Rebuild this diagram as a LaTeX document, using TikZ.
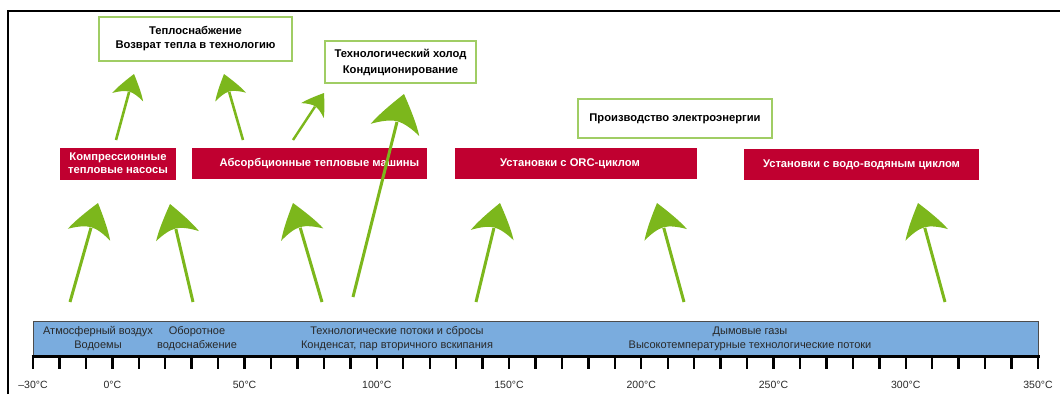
\documentclass[tikz,border=0pt]{standalone}
\usepackage{fontspec}
\setmainfont{Liberation Sans}
\usetikzlibrary{arrows.meta}

\definecolor{arrgreen}{RGB}{124,183,28}
\definecolor{boxgreen}{RGB}{160,205,100}
\definecolor{rred}{RGB}{192,0,48}
\definecolor{barblue}{RGB}{122,172,222}
\definecolor{txtgrey}{RGB}{40,40,40}

\pgfdeclarearrow{
  name=Swoop,
  parameters={\the\pgfarrowlength,\the\pgfarrowwidth},
  setup code={
    \pgfarrowssettipend{\pgfarrowlength}
    \pgfarrowssetlineend{.22\pgfarrowlength}
    \pgfarrowssetvisualbackend{.22\pgfarrowlength}
    \pgfarrowssetbackend{0pt}
    \pgfarrowshullpoint{\pgfarrowlength}{0pt}
    \pgfarrowsupperhullpoint{0pt}{.5\pgfarrowwidth}
    \pgfarrowssavethe\pgfarrowlength
    \pgfarrowssavethe\pgfarrowwidth
  },
  drawing code={
    \pgfpathmoveto{\pgfqpoint{\pgfarrowlength}{0pt}}
    \pgfpathcurveto{\pgfqpoint{.65\pgfarrowlength}{.2\pgfarrowwidth}}{\pgfqpoint{.3\pgfarrowlength}{.39\pgfarrowwidth}}{\pgfqpoint{0pt}{.5\pgfarrowwidth}}
    \pgfpathcurveto{\pgfqpoint{.14\pgfarrowlength}{.32\pgfarrowwidth}}{\pgfqpoint{.24\pgfarrowlength}{.14\pgfarrowwidth}}{\pgfqpoint{.24\pgfarrowlength}{0pt}}
    \pgfpathcurveto{\pgfqpoint{.24\pgfarrowlength}{-.14\pgfarrowwidth}}{\pgfqpoint{.14\pgfarrowlength}{-.32\pgfarrowwidth}}{\pgfqpoint{0pt}{-.5\pgfarrowwidth}}
    \pgfpathcurveto{\pgfqpoint{.3\pgfarrowlength}{-.39\pgfarrowwidth}}{\pgfqpoint{.65\pgfarrowlength}{-.2\pgfarrowwidth}}{\pgfqpoint{\pgfarrowlength}{0pt}}
    \pgfpathclose
    \pgfusepathqfill
  },
  defaults={length=33pt, width=44pt}
}

\tikzset{
  redbox/.style={fill=rred, draw=none, text=white, font=\bfseries\fontsize{11.2}{13}\selectfont, align=center, inner sep=0pt},
  greenbox/.style={draw=boxgreen, line width=1.5pt, fill=white, text=black, font=\bfseries\fontsize{11.2}{14}\selectfont, align=center, inner sep=0pt},
  bartext/.style={text=txtgrey, font=\fontsize{11}{14}\selectfont, align=center, inner sep=0pt},
  axlabel/.style={text=txtgrey, font=\fontsize{10.5}{12}\selectfont, inner sep=0pt},
  garrow/.style={arrgreen, line width=3pt, -{Swoop}},
  garrowbig/.style={arrgreen, line width=3pt, -{Swoop[length=37pt,width=50pt]}},
  garrowsmall/.style={arrgreen, line width=2.6pt, -{Swoop[length=24pt,width=32pt]}},
  garrowtiny/.style={arrgreen, line width=2.4pt, -{Swoop[length=21pt,width=27pt]}},
}

\begin{document}
\begin{tikzpicture}[x=1pt,y=-1pt]
\useasboundingbox (0,0) rectangle (1060,394);
% frame
\draw[line width=2pt] (8,394) -- (8,11) -- (1060,11);

% green boxes
\node[greenbox, minimum width=193pt, minimum height=44pt] (heat) at (195.5,39) {Теплоснабжение\\Возврат тепла в технологию};
\node[greenbox, minimum width=151pt, minimum height=42pt, font=\bfseries\fontsize{11.2}{16}\selectfont] (cold) at (400.5,62) {Технологический холод\\Кондиционирование};
\node[greenbox, minimum width=194pt, minimum height=39pt] (power) at (675,118.5) {Производство электроэнергии};

% red boxes
\node[redbox, minimum width=116pt, minimum height=32pt] (hp) at (118,163.5) {Компрессионные\\тепловые насосы};
\node[redbox, minimum width=235pt, minimum height=31pt,
  label={[redbox, xshift=10pt]center:Абсорбционные тепловые машины}] (abs) at (309.5,163.5) {};
\node[redbox, minimum width=242pt, minimum height=31pt,
  label={[redbox, xshift=-6pt]center:Установки с ORC-циклом}] (orc) at (576,163.5) {};
\node[redbox, minimum width=235pt, minimum height=31pt] (ww) at (861.5,164.5) {Установки с водо-водяным циклом};

% bar
\node[fill=barblue, draw=black!70, line width=0.6pt, minimum width=1005pt, minimum height=34pt, inner sep=0pt] (bar) at (535.5,338.5) {};
\node[bartext] (t1) at (98,339) {Атмосферный воздух\\Водоемы};
\node[bartext] (t2) at (197,339) {Оборотное\\водоснабжение};
\node[bartext] (t3) at (397,339) {Технологические потоки и сбросы\\Конденсат, пар вторичного вскипания};
\node[bartext] (t4) at (750,339) {Дымовые газы\\Высокотемпературные технологические потоки};

% axis
\draw[line width=3pt] (31.5,356.5) -- (1039.5,356.5);
\foreach \i in {0,...,38}{
  \draw[line width=2.4pt] ({33+\i*26.447},356) -- ++(0,13);
}
\foreach \v/\lab in {-30/–30,0/0,50/50,100/100,150/150,200/200,250/250,300/300,350/350}{
  \node[axlabel] at ({33+(\v+30)*2.6447},385) {\lab°C};
}

% arrow end coordinates
\coordinate (s1) at (70,302);   \coordinate (e1) at (98,203);
\coordinate (s2) at (193,302);  \coordinate (e2) at (170,204);
\coordinate (s3) at (322,302);  \coordinate (e3) at (293,203);
\coordinate (s4) at (353,297);  \coordinate (e4) at (404,94);
\coordinate (s5) at (476,302);  \coordinate (e5) at (500,203);
\coordinate (s6) at (684,302);  \coordinate (e6) at (657,203);
\coordinate (s7) at (945,302);  \coordinate (e7) at (918,203);
\coordinate (sa) at (116,140);  \coordinate (ea) at (134,74);
\coordinate (sb) at (243,140);  \coordinate (eb) at (224,74);
\coordinate (sc) at (293,140);  \coordinate (ec) at (324,93);

\draw[garrow] (s1) -- (e1);
\draw[garrow] (s2) -- (e2);
\draw[garrow] (s3) -- (e3);
\draw[garrowbig] (s4) -- (e4);
\draw[garrow] (s5) -- (e5);
\draw[garrow] (s6) -- (e6);
\draw[garrow] (s7) -- (e7);
\draw[garrowsmall] (sa) -- (ea);
\draw[garrowsmall] (sb) -- (eb);
\draw[garrowtiny] (sc) -- (ec);
\end{tikzpicture}
\end{document}
